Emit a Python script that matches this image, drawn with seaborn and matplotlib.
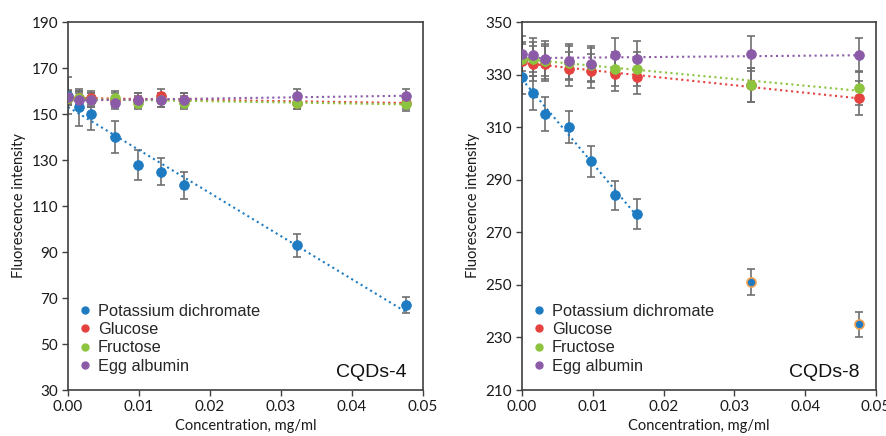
import numpy as np
import pandas as pd
import matplotlib
matplotlib.use('Agg')
import matplotlib.pyplot as plt
import seaborn as sns
from matplotlib.lines import Line2D

# concentrations, mg/ml
conc = [0.0, 0.0016, 0.0033, 0.0066, 0.0098, 0.0131, 0.0163, 0.0323, 0.0476]

# CQDs-4
k4 = [158, 153, 150, 140, 128, 125, 119, 93, 67]
k4_err = [8, 8, 7, 7, 6.5, 6, 6, 5, 3.5]
glu4 = [157, 157, 157, 156, 156, 158, 156, 155, 155]
fru4 = [157, 157, 156, 157, 155, 156, 155, 155, 154.5]
alb4 = [157.5, 156, 156, 155, 156, 156, 156, 158, 158]
err4 = [3, 3, 3, 3, 3, 3, 3, 3, 3]

# CQDs-8
k8 = [329, 323, 315, 310, 297, 284, 277, 251, 235]
k8_err = [6.5, 6.5, 6.3, 6, 6, 5.7, 5.7, 5, 4.8]
glu8 = [335, 334.2, 334.2, 332.2, 331.3, 330.1, 329, 326, 321]
fru8 = [336, 336, 335, 334.5, 333.5, 332.2, 332, 326, 325]
alb8 = [338, 337.3, 336.1, 335, 334.2, 337.3, 336.1, 338, 337.3]
err8 = [6.5, 6.5, 6.5, 6.5, 6.5, 6.5, 6.5, 6.5, 6.5]

names = ['Potassium dichromate', 'Glucose', 'Fructose', 'Egg albumin']
colors = ['#1f7bc1', '#e5413e', '#8cc43f', '#8c5ba8']

sns.set_style('white')
plt.rcParams['font.family'] = ['Lato', 'DejaVu Sans']

fig = plt.figure(figsize=(8.87, 4.36), dpi=100)
ax1 = fig.add_axes([0.0767, 0.1055, 0.4002, 0.844])
ax2 = fig.add_axes([0.5885, 0.1055, 0.399, 0.844])


def draw_series(ax, x, y, err, color, fit_n=None):
    ax.errorbar(x, y, yerr=err, fmt='none', ecolor='#6f6f6f', elinewidth=1.2,
                capsize=3, capthick=1.2, zorder=2)
    n = len(x) if fit_n is None else fit_n
    sns.regplot(x=np.array(x[:n]), y=np.array(y[:n]), ax=ax, scatter=False, ci=None,
                truncate=True, color=color,
                line_kws=dict(ls=':', lw=1.5, zorder=2.5))
    sns.scatterplot(x=x[:n], y=y[:n], ax=ax, color=color, s=50, edgecolor=color,
                    linewidth=0.5, zorder=3)


# left panel
for y, e, c in zip([k4, glu4, fru4, alb4], [k4_err, err4, err4, err4], colors):
    draw_series(ax1, conc, y, e, c)

# right panel
draw_series(ax2, conc, k8, k8_err, colors[0], fit_n=7)
sns.scatterplot(x=conc[7:], y=k8[7:], ax=ax2, color=colors[0], s=42,
                edgecolor='#f0a050', linewidth=1.2, zorder=3)
for y, c in zip([glu8, fru8, alb8], colors[1:]):
    draw_series(ax2, conc, y, err8, c)

for ax, ylim, yt, label in [(ax1, (30, 190), np.arange(30, 191, 20), 'CQDs-4'),
                            (ax2, (210, 350), np.arange(210, 351, 20), 'CQDs-8')]:
    ax.set_xlim(0, 0.05)
    ax.set_ylim(*ylim)
    ax.set_xticks(np.arange(0, 0.051, 0.01))
    ax.set_xticklabels([f'{v:.2f}' for v in np.arange(0, 0.051, 0.01)])
    ax.set_yticks(yt)
    ax.tick_params(axis='both', direction='out', length=4, width=1, colors='#404040',
                   labelcolor='#1a1a1a', labelsize=11, bottom=True, left=True, pad=3)
    for s in ax.spines.values():
        s.set_color('#404040')
        s.set_linewidth(1.2)
    ax.set_xlabel('Concentration, mg/ml', fontsize=10.5, color='#1a1a1a', labelpad=4)
    ax.set_ylabel('Fluorescence intensity', fontsize=10.5, color='#1a1a1a', labelpad=4)
    handles = [Line2D([], [], ls='none', marker='o', markersize=5, color=c,
                      markeredgecolor=c) for c in colors]
    ax.legend(handles, names, loc='lower left', bbox_to_anchor=(-0.008, 0.013), frameon=False,
              prop=dict(family='Liberation Sans', size=11.8), handletextpad=0.3,
              handlelength=1.0, labelspacing=0.2, borderaxespad=0.3)
    ax.text(0.955, 0.025, label, transform=ax.transAxes, ha='right', va='bottom',
            family='Liberation Sans', fontsize=14, color='#111111')

fig.savefig('out.png', dpi=100)
